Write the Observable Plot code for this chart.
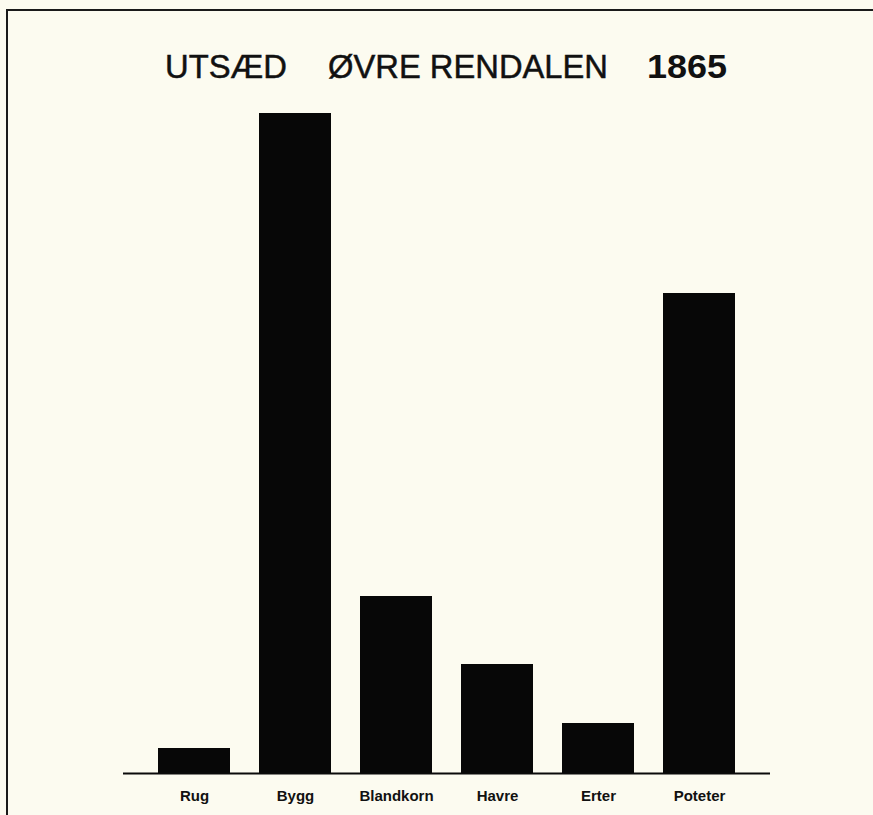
<!DOCTYPE html>
<html>
<head>
<meta charset="utf-8">
<script src="https://cdn.jsdelivr.net/npm/d3@7"></script>
<script src="https://cdn.jsdelivr.net/npm/@observablehq/plot@0.6"></script>
<style>
  html, body { margin: 0; padding: 0; background: #fcfbf0; }
  #page { position: relative; width: 873px; height: 815px; overflow: hidden; background: #fcfbf0; }
  #frame { position: absolute; left: 6px; top: 9px; right: -10px; bottom: -10px;
           border-left: 2px solid #1a1a1a; border-top: 2px solid #1a1a1a; pointer-events: none; }
  #title { position: absolute; left: 0; width: 873px; top: 49px; height: 34px; line-height: 34px;
           font-family: "Liberation Sans", Arial, sans-serif; font-size: 34px; color: #111; white-space: nowrap; }
  #title span { position: absolute; top: 0; transform-origin: 0 50%; -webkit-text-stroke: 0.5px #111; }
  #chart { position: absolute; left: 0; top: 90px; }
</style>
</head>
<body>
<div id="page">
  <div id="frame"></div>
  <div id="title"><span data-l="165" data-w="122">UTSÆD</span><span data-l="328" data-w="280">ØVRE RENDALEN</span><span data-l="647" data-w="80" style="font-weight:bold;-webkit-text-stroke:0">1865</span></div>
  <div id="chart"></div>
</div>
<script>
const crops = ["Rug", "Bygg", "Blandkorn", "Havre", "Erter", "Poteter"];
const values = [25, 660, 177, 109, 50, 480];

const data = crops.map((c, i) => ({crop: c, value: values[i]}));

// fit title words to their positions in the reference
document.querySelectorAll("#title span").forEach(s => {
  const w = s.getBoundingClientRect().width;
  s.style.left = s.dataset.l + "px";
  s.style.transform = `scaleX(${(+s.dataset.w) / w})`;
});

const chart = Plot.plot({
  width: 873,
  height: 725,
  marginTop: 23,
  marginBottom: 42,
  marginLeft: 123,
  marginRight: 103,
  style: {background: "transparent", fontFamily: "'Liberation Sans', Arial, sans-serif", overflow: "visible"},
  x: {domain: crops, paddingInner: 0.29, paddingOuter: 0.32, label: null, tickSize: 0, tickPadding: 17},
  y: {domain: [0, 660], axis: null},
  marks: [
    Plot.barY(data, {x: "crop", y: "value", fill: "#070707"}),
    Plot.ruleY([0], {stroke: "#0a0a0a", strokeWidth: 2.2}),
    Plot.axisX({tickSize: 0, tickPadding: 17, fontSize: 15, fontWeight: "bold", fill: "#111", label: null})
  ]
});
document.getElementById("chart").appendChild(chart);
</script>
</body>
</html>
